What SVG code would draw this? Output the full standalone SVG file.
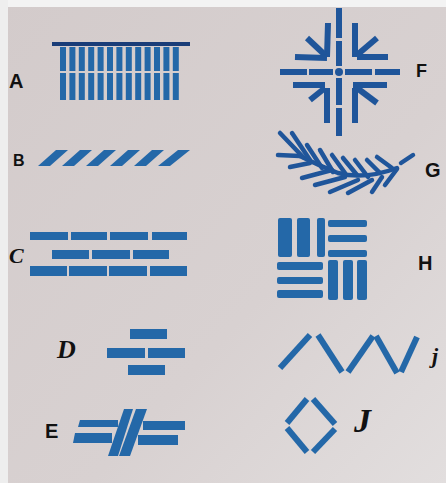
<svg xmlns="http://www.w3.org/2000/svg" width="446" height="483" viewBox="0 0 446 483">
<defs>
<linearGradient id="bg" x1="0" y1="0" x2="1" y2="1">
<stop offset="0" stop-color="#d3cbcb"/>
<stop offset="0.6" stop-color="#d8d1d1"/>
<stop offset="1" stop-color="#e2dede"/>
</linearGradient>
<style>
.b{fill:#2468a8}
.s{stroke:#2468a8;fill:none;stroke-width:6}
.f{stroke:#1f559a;fill:none;stroke-width:6}
.g{stroke:#1f559a;fill:none;stroke-width:4.5;stroke-linecap:round}
.lbl{font-family:"Liberation Sans",Arial,sans-serif;fill:#111;font-weight:bold}
.hw{font-family:"Liberation Serif","Times New Roman",serif;fill:#111;font-style:italic;font-weight:bold}
</style>
</defs>
<rect x="0" y="0" width="446" height="483" fill="url(#bg)"/>
<rect x="0" y="0" width="446" height="7" fill="#f3f3f3"/>
<rect x="0" y="0" width="8" height="483" fill="#eeeeee"/>

<g id="A">
<rect x="52" y="42" width="138" height="4" fill="#1a3d78"/>
<g class="b">
<rect x="60" y="47" width="6" height="24"/><rect x="60" y="73" width="6" height="27"/>
<rect x="69.4" y="47" width="6" height="24"/><rect x="69.4" y="73" width="6" height="27"/>
<rect x="78.8" y="47" width="6" height="24"/><rect x="78.8" y="73" width="6" height="27"/>
<rect x="88.2" y="47" width="6" height="24"/><rect x="88.2" y="73" width="6" height="27"/>
<rect x="97.6" y="47" width="6" height="24"/><rect x="97.6" y="73" width="6" height="27"/>
<rect x="107" y="47" width="6" height="24"/><rect x="107" y="73" width="6" height="27"/>
<rect x="116.4" y="47" width="6" height="24"/><rect x="116.4" y="73" width="6" height="27"/>
<rect x="125.8" y="47" width="6" height="24"/><rect x="125.8" y="73" width="6" height="27"/>
<rect x="135.2" y="47" width="6" height="24"/><rect x="135.2" y="73" width="6" height="27"/>
<rect x="144.6" y="47" width="6" height="24"/><rect x="144.6" y="73" width="6" height="27"/>
<rect x="154" y="47" width="6" height="24"/><rect x="154" y="73" width="6" height="27"/>
<rect x="163.4" y="47" width="6" height="24"/><rect x="163.4" y="73" width="6" height="27"/>
<rect x="172.8" y="47" width="6" height="24"/><rect x="172.8" y="73" width="6" height="27"/>
</g>
<text class="lbl" x="9" y="88" font-size="20">A</text>
</g>

<g id="B">
<g class="b">
<polygon points="38,166 50,166 68,150 56,150"/>
<polygon points="62,166 74,166 92,150 80,150"/>
<polygon points="86,166 98,166 116,150 104,150"/>
<polygon points="110,166 122,166 140,150 128,150"/>
<polygon points="134,166 146,166 164,150 152,150"/>
<polygon points="158,166 170,166 190,150 178,150"/>
</g>
<text class="lbl" x="13" y="166" font-size="16">B</text>
</g>

<g id="C">
<g class="b">
<rect x="30" y="232" width="38" height="8"/><rect x="71" y="232" width="36" height="8"/><rect x="110" y="232" width="38" height="8"/><rect x="152" y="232" width="35" height="8"/>
<rect x="52" y="250" width="37" height="9"/><rect x="92" y="250" width="38" height="9"/><rect x="133" y="250" width="36" height="9"/>
<rect x="30" y="266" width="37" height="10"/><rect x="69" y="266" width="38" height="10"/><rect x="109" y="266" width="38" height="10"/><rect x="150" y="266" width="37" height="10"/>
</g>
<text class="hw" x="9" y="263" font-size="22">C</text>
</g>

<g id="D">
<g class="b">
<rect x="130" y="329" width="37" height="10"/>
<rect x="107" y="348" width="38" height="10"/><rect x="148" y="348" width="37" height="10"/>
<rect x="128" y="365" width="37" height="10"/>
</g>
<text class="hw" x="57" y="358" font-size="26">D</text>
</g>

<g id="E">
<g class="b">
<polygon points="80,420 118,420 118,427 78,427"/>
<polygon points="143,421 185,421 185,430 143,430"/>
<polygon points="75,433 112,433 112,443 73,443"/>
<polygon points="138,435 178,435 178,445 138,445"/>
<polygon points="124,409 133,409 118,456 108,456"/>
<polygon points="136,409 147,409 130,456 119,456"/>
</g>
<text class="lbl" x="45" y="438" font-size="20">E</text>
</g>

<g id="F">
<g class="f">
<line x1="339" y1="8" x2="339" y2="38"/><line x1="339" y1="41" x2="339" y2="66"/>
<line x1="339" y1="78" x2="339" y2="105"/><line x1="339" y1="108" x2="339" y2="136"/>
<line x1="280" y1="72" x2="307" y2="72"/><line x1="309" y1="72" x2="333" y2="72"/>
<line x1="345" y1="72" x2="372" y2="72"/><line x1="375" y1="72" x2="400" y2="72"/>
<line x1="328" y1="23" x2="327" y2="57"/><line x1="307" y1="38" x2="325" y2="55"/><line x1="295" y1="57" x2="327" y2="58"/>
<line x1="355" y1="23" x2="355" y2="57"/><line x1="377" y1="38" x2="357" y2="55"/><line x1="357" y1="57" x2="388" y2="57"/>
<line x1="293" y1="85" x2="325" y2="85"/><line x1="310" y1="100" x2="325" y2="88"/><line x1="327" y1="88" x2="327" y2="123"/>
<line x1="353" y1="85" x2="387" y2="85"/><line x1="377" y1="103" x2="357" y2="88"/><line x1="355" y1="88" x2="355" y2="123"/>
</g>
<circle cx="339" cy="72" r="4" fill="#1f559a"/>
<text class="lbl" x="416" y="77" font-size="18">F</text>
</g>

<g id="G">
<g class="g">
<line x1="278" y1="155" x2="300" y2="156"/>
<path d="M300,156 Q320,166 338,173 Q365,180 397,168"/>
<line x1="280" y1="133" x2="303" y2="157"/>
<line x1="292" y1="133" x2="310" y2="160"/>
<line x1="307" y1="145" x2="322" y2="168"/>
<line x1="320" y1="150" x2="333" y2="172"/>
<line x1="332" y1="155" x2="345" y2="173"/>
<line x1="343" y1="158" x2="357" y2="175"/>
<line x1="355" y1="160" x2="368" y2="177"/>
<line x1="367" y1="160" x2="380" y2="173"/>
<line x1="377" y1="157" x2="392" y2="168"/>
<line x1="290" y1="167" x2="310" y2="163"/>
<line x1="302" y1="178" x2="332" y2="170"/>
<line x1="315" y1="185" x2="345" y2="177"/>
<line x1="330" y1="192" x2="358" y2="180"/>
<line x1="348" y1="193" x2="372" y2="180"/>
<line x1="372" y1="192" x2="382" y2="177"/>
<line x1="385" y1="185" x2="397" y2="169"/>
<line x1="401" y1="163" x2="413" y2="155"/>
</g>
<text class="lbl" x="425" y="177" font-size="20" font-weight="normal">G</text>
</g>

<g id="H">
<g class="b">
<rect x="278" y="218" width="14" height="39" rx="2"/>
<rect x="297" y="218" width="13" height="39" rx="2"/>
<rect x="317" y="218" width="8" height="39" rx="2"/>
<rect x="328" y="220" width="39" height="7" rx="2"/>
<rect x="328" y="235" width="39" height="7" rx="2"/>
<rect x="328" y="250" width="39" height="7" rx="2"/>
<rect x="277" y="262" width="46" height="8" rx="2"/>
<rect x="277" y="277" width="46" height="7" rx="2"/>
<rect x="277" y="290" width="46" height="8" rx="2"/>
<rect x="328" y="260" width="10" height="40" rx="2"/>
<rect x="343" y="260" width="10" height="40" rx="2"/>
<rect x="357" y="260" width="10" height="40" rx="2"/>
</g>
<text class="lbl" x="418" y="270" font-size="20">H</text>
</g>

<g id="I">
<g class="s" stroke-width="7">
<line x1="280" y1="368" x2="310" y2="335"/>
<line x1="318" y1="335" x2="342" y2="372"/>
<line x1="348" y1="372" x2="373" y2="336"/>
<line x1="376" y1="336" x2="397" y2="373"/>
<line x1="401" y1="372" x2="417" y2="337"/>
</g>
<text class="hw" x="432" y="363" font-size="22">j</text>
</g>

<g id="J">
<g class="s" stroke-width="7">
<line x1="287" y1="423" x2="307" y2="399"/>
<line x1="313" y1="399" x2="335" y2="424"/>
<line x1="287" y1="428" x2="307" y2="452"/>
<line x1="335" y1="429" x2="313" y2="452"/>
</g>
<text class="hw" x="354" y="432" font-size="34">J</text>
</g>
</svg>
